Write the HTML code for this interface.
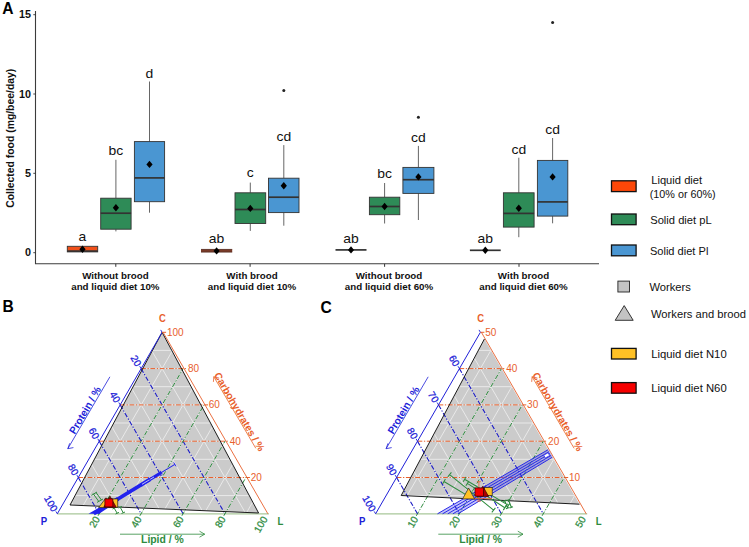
<!DOCTYPE html>
<html><head><meta charset="utf-8"><title>Figure</title>
<style>
html,body{margin:0;padding:0;background:#fff;}
body{width:749px;height:547px;overflow:hidden;}
svg{display:block;font-family:"Liberation Sans", sans-serif;}
</style></head>
<body>
<svg width="749" height="547" viewBox="0 0 749 547">
<rect width="749" height="547" fill="#fff"/>
<text x="2.2" y="14" font-size="15.6" font-weight="bold" fill="#000">A</text>
<text x="2.5" y="312.3" font-size="15.6" font-weight="bold" fill="#000">B</text>
<text x="320.5" y="312.6" font-size="15.6" font-weight="bold" fill="#000">C</text>
<path d="M35.5 11 V263.8 H599" fill="none" stroke="#3C3C3C" stroke-width="1.1"/>
<path d="M33.3 252.7 H35.5" stroke="#333333" stroke-width="0.9"/>
<text transform="translate(31.0,256.4) scale(1.07,1)" font-size="10.1" font-weight="bold" text-anchor="end" fill="#111">0</text>
<path d="M33.3 173.3 H35.5" stroke="#333333" stroke-width="0.9"/>
<text transform="translate(31.0,177.1) scale(1.07,1)" font-size="10.1" font-weight="bold" text-anchor="end" fill="#111">5</text>
<path d="M33.3 94.0 H35.5" stroke="#333333" stroke-width="0.9"/>
<text transform="translate(31.0,97.8) scale(1.07,1)" font-size="10.1" font-weight="bold" text-anchor="end" fill="#111">10</text>
<path d="M33.3 14.7 H35.5" stroke="#333333" stroke-width="0.9"/>
<text transform="translate(31.0,18.4) scale(1.07,1)" font-size="10.1" font-weight="bold" text-anchor="end" fill="#111">15</text>
<text transform="translate(14.0,138.3) rotate(-90)" font-size="10.4" font-weight="bold" text-anchor="middle" fill="#111">Collected food (mg/bee/day)</text>
<path d="M115.8 263.8 V266.8" stroke="#333333" stroke-width="1"/>
<text x="115.4" y="278.6" font-size="9.75" font-weight="bold" text-anchor="middle" fill="#111">Without brood</text>
<text x="115.4" y="289.7" font-size="9.75" font-weight="bold" text-anchor="middle" fill="#111">and liquid diet 10%</text>
<path d="M250.1 263.8 V266.8" stroke="#333333" stroke-width="1"/>
<text x="252.0" y="278.6" font-size="9.75" font-weight="bold" text-anchor="middle" fill="#111">With brood</text>
<text x="252.0" y="289.7" font-size="9.75" font-weight="bold" text-anchor="middle" fill="#111">and liquid diet 10%</text>
<path d="M384.6 263.8 V266.8" stroke="#333333" stroke-width="1"/>
<text x="389.0" y="278.6" font-size="9.75" font-weight="bold" text-anchor="middle" fill="#111">Without brood</text>
<text x="389.0" y="289.7" font-size="9.75" font-weight="bold" text-anchor="middle" fill="#111">and liquid diet 60%</text>
<path d="M519.0 263.8 V266.8" stroke="#333333" stroke-width="1"/>
<text x="523.5" y="278.6" font-size="9.75" font-weight="bold" text-anchor="middle" fill="#111">With brood</text>
<text x="523.5" y="289.7" font-size="9.75" font-weight="bold" text-anchor="middle" fill="#111">and liquid diet 60%</text>
<path d="M82.5 246.3 V246.3 M82.5 251.9 V251.9" stroke="#4A4A4A" stroke-width="0.85"/>
<rect x="67.3" y="246.3" width="30.4" height="5.6" fill="#F0501A" stroke="#333333" stroke-width="0.9"/>
<path d="M67.3 251.1 H97.7" stroke="#333333" stroke-width="1.7"/>
<path d="M82.5 245.6 L85.6 249.3 L82.5 253.0 L79.4 249.3Z" fill="#000"/>
<text transform="translate(82.5,240.6) scale(1.08,1)" font-size="12.9" text-anchor="middle" fill="#111">a</text>
<path d="M115.9 159.8 V198.2 M115.9 229.2 V231.4" stroke="#4A4A4A" stroke-width="0.85"/>
<rect x="100.7" y="198.2" width="30.4" height="31.0" fill="#2E8B57" stroke="#333333" stroke-width="0.9"/>
<path d="M100.7 213.2 H131.1" stroke="#333333" stroke-width="1.7"/>
<path d="M115.9 204.1 L119.0 207.8 L115.9 211.5 L112.8 207.8Z" fill="#000"/>
<text transform="translate(115.9,155.4) scale(1.08,1)" font-size="12.9" text-anchor="middle" fill="#111">bc</text>
<path d="M149.5 81.5 V141.6 M149.5 201.7 V212.7" stroke="#4A4A4A" stroke-width="0.85"/>
<rect x="134.4" y="141.6" width="30.2" height="60.1" fill="#4A96D2" stroke="#333333" stroke-width="0.9"/>
<path d="M134.4 177.9 H164.6" stroke="#333333" stroke-width="1.7"/>
<path d="M149.5 160.7 L152.6 164.4 L149.5 168.1 L146.4 164.4Z" fill="#000"/>
<text transform="translate(149.5,77.5) scale(1.08,1)" font-size="12.9" text-anchor="middle" fill="#111">d</text>
<path d="M201 250.7 H232.2" stroke="#7A3A28" stroke-width="3.1"/>
<path d="M201 249.4 H232.2 M201 252.1 H232.2" stroke="#4A2A22" stroke-width="0.6"/>
<path d="M216.6 247.2 L219.7 250.9 L216.6 254.6 L213.5 250.9Z" fill="#000"/>
<text transform="translate(216.4,243.4) scale(1.08,1)" font-size="12.9" text-anchor="middle" fill="#111">ab</text>
<path d="M250.3 182.6 V192.8 M250.3 223.5 V230.9" stroke="#4A4A4A" stroke-width="0.85"/>
<rect x="235.0" y="192.8" width="30.7" height="30.7" fill="#2E8B57" stroke="#333333" stroke-width="0.9"/>
<path d="M235.0 209.5 H265.7" stroke="#333333" stroke-width="1.7"/>
<path d="M250.3 204.7 L253.4 208.4 L250.3 212.1 L247.2 208.4Z" fill="#000"/>
<text transform="translate(250.3,177.1) scale(1.08,1)" font-size="12.9" text-anchor="middle" fill="#111">c</text>
<path d="M283.8 145.1 V178.2 M283.8 212.6 V225.7" stroke="#4A4A4A" stroke-width="0.85"/>
<rect x="268.5" y="178.2" width="30.5" height="34.4" fill="#4A96D2" stroke="#333333" stroke-width="0.9"/>
<path d="M268.5 197.2 H299.0" stroke="#333333" stroke-width="1.7"/>
<path d="M283.8 182.0 L286.9 185.7 L283.8 189.4 L280.6 185.7Z" fill="#000"/>
<text transform="translate(283.8,140.6) scale(1.08,1)" font-size="12.9" text-anchor="middle" fill="#111">cd</text>
<circle cx="283.8" cy="90.5" r="1.5" fill="#222"/>
<path d="M351.0 249.9 V249.9 M351.0 249.9 V249.9" stroke="#4A4A4A" stroke-width="0.85"/>
<rect x="335.5" y="249.9" width="31.0" height="0.0" fill="#333333" stroke="#333333" stroke-width="0.9"/>
<path d="M335.5 249.9 H366.5" stroke="#333333" stroke-width="1.7"/>
<path d="M351.0 246.2 L354.1 249.9 L351.0 253.6 L347.9 249.9Z" fill="#000"/>
<text transform="translate(351.0,242.6) scale(1.08,1)" font-size="12.9" text-anchor="middle" fill="#111">ab</text>
<path d="M384.6 183.0 V197.2 M384.6 214.7 V223.5" stroke="#4A4A4A" stroke-width="0.85"/>
<rect x="369.4" y="197.2" width="30.4" height="17.5" fill="#2E8B57" stroke="#333333" stroke-width="0.9"/>
<path d="M369.4 206.5 H399.8" stroke="#333333" stroke-width="1.7"/>
<path d="M384.6 202.8 L387.7 206.5 L384.6 210.2 L381.5 206.5Z" fill="#000"/>
<text transform="translate(384.6,177.9) scale(1.08,1)" font-size="12.9" text-anchor="middle" fill="#111">bc</text>
<path d="M418.4 145.9 V167.4 M418.4 193.4 V220.0" stroke="#4A4A4A" stroke-width="0.85"/>
<rect x="402.9" y="167.4" width="31.0" height="26.0" fill="#4A96D2" stroke="#333333" stroke-width="0.9"/>
<path d="M402.9 179.7 H433.9" stroke="#333333" stroke-width="1.7"/>
<path d="M418.4 173.2 L421.5 176.9 L418.4 180.6 L415.3 176.9Z" fill="#000"/>
<text transform="translate(418.4,141.9) scale(1.08,1)" font-size="12.9" text-anchor="middle" fill="#111">cd</text>
<circle cx="418.4" cy="117.3" r="1.5" fill="#222"/>
<path d="M485.3 250.3 V250.3 M485.3 250.3 V250.3" stroke="#4A4A4A" stroke-width="0.85"/>
<rect x="469.9" y="250.3" width="30.8" height="0.0" fill="#333333" stroke="#333333" stroke-width="0.9"/>
<path d="M469.9 250.3 H500.7" stroke="#333333" stroke-width="1.7"/>
<path d="M485.3 246.6 L488.4 250.3 L485.3 254.0 L482.2 250.3Z" fill="#000"/>
<text transform="translate(485.3,243.2) scale(1.08,1)" font-size="12.9" text-anchor="middle" fill="#111">ab</text>
<path d="M518.8 157.7 V192.8 M518.8 227.1 V237.2" stroke="#4A4A4A" stroke-width="0.85"/>
<rect x="503.4" y="192.8" width="30.7" height="34.3" fill="#2E8B57" stroke="#333333" stroke-width="0.9"/>
<path d="M503.4 213.4 H534.1" stroke="#333333" stroke-width="1.7"/>
<path d="M518.8 204.5 L521.9 208.2 L518.8 211.9 L515.6 208.2Z" fill="#000"/>
<text transform="translate(518.8,153.7) scale(1.08,1)" font-size="12.9" text-anchor="middle" fill="#111">cd</text>
<path d="M552.6 138.0 V160.4 M552.6 216.1 V223.3" stroke="#4A4A4A" stroke-width="0.85"/>
<rect x="537.4" y="160.4" width="30.4" height="55.7" fill="#4A96D2" stroke="#333333" stroke-width="0.9"/>
<path d="M537.4 201.9 H567.8" stroke="#333333" stroke-width="1.7"/>
<path d="M552.6 173.2 L555.7 176.9 L552.6 180.6 L549.5 176.9Z" fill="#000"/>
<text transform="translate(552.6,134.3) scale(1.08,1)" font-size="12.9" text-anchor="middle" fill="#111">cd</text>
<circle cx="552.6" cy="22.5" r="1.5" fill="#222"/>
<rect x="611.5" y="180.8" width="24.6" height="10.8" fill="#FC4708" stroke="#111" stroke-width="1.3"/>
<rect x="611.5" y="214.0" width="24.6" height="10.7" fill="#2E8B57" stroke="#111" stroke-width="1.3"/>
<rect x="611.5" y="245.0" width="24.6" height="10.8" fill="#4A96D2" stroke="#111" stroke-width="1.3"/>
<rect x="617.9" y="281.1" width="11.6" height="10.9" fill="#C3C3C3" stroke="#222" stroke-width="0.9"/>
<path d="M624.2 305.6 L633.2 320.3 L615.2 320.3 Z" fill="#C3C3C3" stroke="#222" stroke-width="0.9"/>
<rect x="611.5" y="348.4" width="24.6" height="10.6" fill="#FFC125" stroke="#111" stroke-width="1.3"/>
<rect x="611.5" y="382.6" width="24.6" height="10.6" fill="#F60000" stroke="#111" stroke-width="1.3"/>
<text x="651.2" y="183.6" font-size="10.2" fill="#111" textLength="51" lengthAdjust="spacingAndGlyphs">Liquid diet</text>
<text x="649.7" y="198.1" font-size="10.2" fill="#111" textLength="66" lengthAdjust="spacingAndGlyphs">(10% or 60%)</text>
<text x="650.2" y="224.0" font-size="10.2" fill="#111" textLength="61.5" lengthAdjust="spacingAndGlyphs">Solid diet pL</text>
<text x="649.9" y="255.1" font-size="10.2" fill="#111" textLength="58.5" lengthAdjust="spacingAndGlyphs">Solid diet Pl</text>
<text x="649.4" y="290.8" font-size="10.2" fill="#111" textLength="41.5" lengthAdjust="spacingAndGlyphs">Workers</text>
<text x="651.0" y="317.5" font-size="10.6" fill="#111" textLength="95" lengthAdjust="spacingAndGlyphs">Workers and brood</text>
<text x="651.2" y="357.5" font-size="10.2" fill="#111" textLength="75.5" lengthAdjust="spacingAndGlyphs">Liquid diet N10</text>
<text x="651.2" y="392.0" font-size="10.2" fill="#111" textLength="75.5" lengthAdjust="spacingAndGlyphs">Liquid diet N60</text>
<clipPath id="clip0"><polygon points="162.1,332.3 70.0,505.0 258.6,513.0"/></clipPath>
<polygon points="162.1,332.3 70.0,505.0 258.6,513.0" fill="#CBCBCB"/>
<path d="M67.8 495.6L256.4 495.6M151.6 350.4L245.9 513.8M78.3 513.8L172.6 350.4M78.3 477.5L245.9 477.5M141.1 368.6L225.0 513.8M99.2 513.8L183.1 368.6M88.7 459.3L235.5 459.3M130.7 386.7L204.0 513.8M120.2 513.8L193.5 386.7M99.2 441.2L225.0 441.2M120.2 404.9L183.1 513.8M141.1 513.8L204.0 404.9M109.7 423.0L214.5 423.0M109.7 423.0L162.1 513.8M162.1 513.8L214.5 423.0M120.2 404.9L204.0 404.9M99.2 441.2L141.1 513.8M183.1 513.8L225.0 441.2M130.7 386.7L193.5 386.7M88.7 459.3L120.2 513.8M204.0 513.8L235.5 459.3M141.1 368.6L183.1 368.6M78.3 477.5L99.2 513.8M225.0 513.8L245.9 477.5M151.6 350.4L172.6 350.4M67.8 495.6L78.3 513.8M245.9 513.8L256.4 495.6" stroke="#EFEFEF" stroke-width="0.85" fill="none" clip-path="url(#clip0)"/>
<path d="M57.3 513.8 H268.9" stroke="#A9C79A" stroke-width="1.2"/>
<path d="M78.3 477.5L249.9 477.5" stroke="#E8602C" stroke-width="1.0" stroke-dasharray="4.8 1.6 1.3 1.6"/>
<path d="M141.1 368.6L225.0 513.8" stroke="#1A1AC4" stroke-width="1.1" stroke-dasharray="4.8 1.6 1.3 1.6"/>
<path d="M98.0 515.8L183.1 368.6" stroke="#2E8B3E" stroke-width="1.0" stroke-dasharray="4.8 1.6 1.3 1.6"/>
<path d="M99.2 441.2L229.0 441.2" stroke="#E8602C" stroke-width="1.0" stroke-dasharray="4.8 1.6 1.3 1.6"/>
<path d="M120.2 404.9L183.1 513.8" stroke="#1A1AC4" stroke-width="1.1" stroke-dasharray="4.8 1.6 1.3 1.6"/>
<path d="M139.9 515.8L204.0 404.9" stroke="#2E8B3E" stroke-width="1.0" stroke-dasharray="4.8 1.6 1.3 1.6"/>
<path d="M120.2 404.9L208.0 404.9" stroke="#E8602C" stroke-width="1.0" stroke-dasharray="4.8 1.6 1.3 1.6"/>
<path d="M99.2 441.2L141.1 513.8" stroke="#1A1AC4" stroke-width="1.1" stroke-dasharray="4.8 1.6 1.3 1.6"/>
<path d="M181.9 515.8L225.0 441.2" stroke="#2E8B3E" stroke-width="1.0" stroke-dasharray="4.8 1.6 1.3 1.6"/>
<path d="M141.1 368.6L187.1 368.6" stroke="#E8602C" stroke-width="1.0" stroke-dasharray="4.8 1.6 1.3 1.6"/>
<path d="M78.3 477.5L99.2 513.8" stroke="#1A1AC4" stroke-width="1.1" stroke-dasharray="4.8 1.6 1.3 1.6"/>
<path d="M223.8 515.8L245.9 477.5" stroke="#2E8B3E" stroke-width="1.0" stroke-dasharray="4.8 1.6 1.3 1.6"/>
<polygon points="162.1,332.3 70.0,505.0 258.6,513.0" fill="none" stroke="#111" stroke-width="0.95" stroke-linejoin="miter"/>
<path d="M57.3 513.8L162.1 332.3" stroke="#2020D8" stroke-width="1.0"/>
<path d="M163.1 332.3L267.9 513.8" stroke="#E8602C" stroke-width="0.9"/>
<path d="M57.3 513.8l-1.4 -2.4M78.3 477.5l-1.4 -2.4M99.2 441.2l-1.4 -2.4M120.2 404.9l-1.4 -2.4M141.1 368.6l-1.4 -2.4M162.1 332.3l-1.4 -2.4" stroke="#2020D8" stroke-width="0.9" fill="none"/>
<path d="M162.1 332.3h4" stroke="#E8602C" stroke-width="1"/>
<text transform="translate(162.3,321.7) scale(0.88,1)" font-size="10.7" font-weight="bold" text-anchor="middle" fill="#E8602C">C</text>
<text transform="translate(43.9,524.8) scale(0.88,1)" font-size="10.9" font-weight="bold" text-anchor="middle" fill="#2020D8">P</text>
<text transform="translate(280.3,524.8) scale(0.88,1)" font-size="10.9" font-weight="bold" text-anchor="middle" fill="#2E8B3E">L</text>
<text x="250.7" y="481.0" font-size="10" fill="#E8602C">20</text>
<text x="229.8" y="444.7" font-size="10" fill="#E8602C">40</text>
<text x="208.8" y="408.4" font-size="10" fill="#E8602C">60</text>
<text x="187.9" y="372.1" font-size="10" fill="#E8602C">80</text>
<text x="166.9" y="335.8" font-size="10" fill="#E8602C">100</text>
<text transform="translate(55.0,510.8) rotate(60)" font-size="10" text-anchor="end" dy="3.5" fill="#2020D8" stroke="#2020D8" stroke-width="0.25">100</text>
<text transform="translate(76.0,474.5) rotate(60)" font-size="10" text-anchor="end" dy="3.5" fill="#2020D8" stroke="#2020D8" stroke-width="0.25">80</text>
<text transform="translate(96.9,438.2) rotate(60)" font-size="10" text-anchor="end" dy="3.5" fill="#2020D8" stroke="#2020D8" stroke-width="0.25">60</text>
<text transform="translate(117.9,401.9) rotate(60)" font-size="10" text-anchor="end" dy="3.5" fill="#2020D8" stroke="#2020D8" stroke-width="0.25">40</text>
<text transform="translate(138.8,365.6) rotate(60)" font-size="10" text-anchor="end" dy="3.5" fill="#2020D8" stroke="#2020D8" stroke-width="0.25">20</text>
<text transform="translate(97.2,517.2) rotate(-60)" font-size="10" text-anchor="end" dy="3.5" fill="#2E8B3E" stroke="#2E8B3E" stroke-width="0.25">20</text>
<text transform="translate(139.1,517.2) rotate(-60)" font-size="10" text-anchor="end" dy="3.5" fill="#2E8B3E" stroke="#2E8B3E" stroke-width="0.25">40</text>
<text transform="translate(181.1,517.2) rotate(-60)" font-size="10" text-anchor="end" dy="3.5" fill="#2E8B3E" stroke="#2E8B3E" stroke-width="0.25">60</text>
<text transform="translate(223.0,517.2) rotate(-60)" font-size="10" text-anchor="end" dy="3.5" fill="#2E8B3E" stroke="#2E8B3E" stroke-width="0.25">80</text>
<text transform="translate(264.9,517.2) rotate(-60)" font-size="10" text-anchor="end" dy="3.5" fill="#2E8B3E" stroke="#2E8B3E" stroke-width="0.25">100</text>
<path d="M109.9 376.8L67.8 448.7M69.7 443.3L67.8 448.7L73.4 447.6" fill="none" stroke="#2020D8" stroke-width="0.8"/>
<text transform="translate(89.0,412.5) rotate(-59.7)" font-size="10.2" font-weight="bold" text-anchor="middle" y="-1.0" fill="#2020D8">Protein / %</text>
<path d="M255.8 448.3L213.8 376.7M219.2 378.1L213.8 376.7L213.4 381.9" fill="none" stroke="#E8602C" stroke-width="0.8"/>
<text transform="translate(213.8,376.7) rotate(59.6)" font-size="10.2" font-weight="bold" x="-1.5" y="-0.8" fill="#E8602C">Carbohydrates / %</text>
<path d="M120.0 534.2H204.7M199.5 531.2L204.7 534.2L199.5 537.2" fill="none" stroke="#2E8B3E" stroke-width="0.8"/>
<text x="162.4" y="542.8" font-size="10.4" font-weight="bold" text-anchor="middle" fill="#2E8B3E">Lipid / %</text>
<path d="M88.5 513.8 L99.1 513.8 L119.2 500.4 L117.2 497.0 Z" fill="#2222EE"/>
<path d="M93.8 513.75 L150 479.4" stroke="#2222EE" stroke-width="3.6" fill="none"/>
<path d="M140 485.5 L161.3 472.6" stroke="#2222EE" stroke-width="3.0" fill="none"/>
<path d="M150 479.4 L174.9 464.4" stroke="#2222EE" stroke-width="1.1" fill="none"/>
<path d="M142 484.3 L154 477.0" stroke="#E6E6F6" stroke-width="0.8"/>
<path d="M173.7 462.4 l2.4 4 M160.2 470.8 l2.2 3.6 M148.3 477.2 l2 3.2 M140.3 483 l2 3.2" stroke="#2222EE" stroke-width="0.9" fill="none"/>
<path d="M93.1 493.6 L98.6 501.2 M96.1 492.6 L101.6 500.2 M91.4 495.4 L97.0 492.0 M97.0 502.4 L103.0 499.0 M114.2 508.2 L117.2 513.2 M120.2 507.2 L123.2 512.7 M112.5 509 L116 507.4 M118.5 508 L122 506.4 M115.5 514 L119 512.4 M121.5 513.5 L125 512" stroke="#2E8B3E" stroke-width="1.0" fill="none"/>
<path d="M106 497.8 L113.4 507.6 L98.6 507.6 Z" fill="#FFC125" stroke="#222" stroke-width="0.7"/>
<rect x="109" y="498.9" width="8.8" height="8.5" fill="#FFC125" stroke="#222" stroke-width="0.7"/>
<path d="M110 496.2 L116.2 507.2 L103.8 507.2 Z" fill="#B00000" stroke="#300" stroke-width="0.7"/>
<rect x="104.9" y="498.9" width="8" height="8" fill="#F60000" stroke="#300" stroke-width="0.7"/>
<clipPath id="clip318"><polygon points="484.4,339.0 401.2,495.5 579.5,504.2"/></clipPath>
<polygon points="484.4,339.0 401.2,495.5 579.5,504.2" fill="#CBCBCB"/>
<path d="M386.1 495.6L574.7 495.6M469.9 350.4L564.2 513.8M396.6 513.8L490.9 350.4M396.6 477.5L564.2 477.5M459.4 368.6L543.3 513.8M417.5 513.8L501.4 368.6M407.0 459.3L553.8 459.3M449.0 386.7L522.3 513.8M438.5 513.8L511.8 386.7M417.5 441.2L543.3 441.2M438.5 404.9L501.4 513.8M459.4 513.8L522.3 404.9M428.0 423.0L532.8 423.0M428.0 423.0L480.4 513.8M480.4 513.8L532.8 423.0M438.5 404.9L522.3 404.9M417.5 441.2L459.4 513.8M501.4 513.8L543.3 441.2M449.0 386.7L511.8 386.7M407.0 459.3L438.5 513.8M522.3 513.8L553.8 459.3M459.4 368.6L501.4 368.6M396.6 477.5L417.5 513.8M543.3 513.8L564.2 477.5M469.9 350.4L490.9 350.4M386.1 495.6L396.6 513.8M564.2 513.8L574.7 495.6" stroke="#EFEFEF" stroke-width="0.85" fill="none" clip-path="url(#clip318)"/>
<path d="M375.6 513.8 H587.2" stroke="#A9C79A" stroke-width="1.2"/>
<path d="M396.6 477.5L568.2 477.5" stroke="#E8602C" stroke-width="1.0" stroke-dasharray="4.8 1.6 1.3 1.6"/>
<path d="M459.4 368.6L543.3 513.8" stroke="#1A1AC4" stroke-width="1.1" stroke-dasharray="4.8 1.6 1.3 1.6"/>
<path d="M416.3 515.8L501.4 368.6" stroke="#2E8B3E" stroke-width="1.0" stroke-dasharray="4.8 1.6 1.3 1.6"/>
<path d="M417.5 441.2L547.3 441.2" stroke="#E8602C" stroke-width="1.0" stroke-dasharray="4.8 1.6 1.3 1.6"/>
<path d="M438.5 404.9L501.4 513.8" stroke="#1A1AC4" stroke-width="1.1" stroke-dasharray="4.8 1.6 1.3 1.6"/>
<path d="M458.2 515.8L522.3 404.9" stroke="#2E8B3E" stroke-width="1.0" stroke-dasharray="4.8 1.6 1.3 1.6"/>
<path d="M438.5 404.9L526.3 404.9" stroke="#E8602C" stroke-width="1.0" stroke-dasharray="4.8 1.6 1.3 1.6"/>
<path d="M417.5 441.2L459.4 513.8" stroke="#1A1AC4" stroke-width="1.1" stroke-dasharray="4.8 1.6 1.3 1.6"/>
<path d="M500.2 515.8L543.3 441.2" stroke="#2E8B3E" stroke-width="1.0" stroke-dasharray="4.8 1.6 1.3 1.6"/>
<path d="M459.4 368.6L505.4 368.6" stroke="#E8602C" stroke-width="1.0" stroke-dasharray="4.8 1.6 1.3 1.6"/>
<path d="M396.6 477.5L417.5 513.8" stroke="#1A1AC4" stroke-width="1.1" stroke-dasharray="4.8 1.6 1.3 1.6"/>
<path d="M542.1 515.8L564.2 477.5" stroke="#2E8B3E" stroke-width="1.0" stroke-dasharray="4.8 1.6 1.3 1.6"/>
<path d="M484.4 339.0L401.2 495.5L579.5 504.2" fill="none" stroke="#111" stroke-width="0.95"/>
<path d="M375.6 513.8L480.4 332.3" stroke="#2020D8" stroke-width="1.0"/>
<path d="M481.4 332.3L586.2 513.8" stroke="#E8602C" stroke-width="0.9"/>
<path d="M375.6 513.8l-1.4 -2.4M396.6 477.5l-1.4 -2.4M417.5 441.2l-1.4 -2.4M438.5 404.9l-1.4 -2.4M459.4 368.6l-1.4 -2.4M480.4 332.3l-1.4 -2.4" stroke="#2020D8" stroke-width="0.9" fill="none"/>
<path d="M480.4 332.3h4" stroke="#E8602C" stroke-width="1"/>
<text transform="translate(480.6,321.7) scale(0.88,1)" font-size="10.7" font-weight="bold" text-anchor="middle" fill="#E8602C">C</text>
<text transform="translate(362.2,524.8) scale(0.88,1)" font-size="10.9" font-weight="bold" text-anchor="middle" fill="#2020D8">P</text>
<text transform="translate(598.6,524.8) scale(0.88,1)" font-size="10.9" font-weight="bold" text-anchor="middle" fill="#2E8B3E">L</text>
<text x="569.0" y="481.0" font-size="10" fill="#E8602C">10</text>
<text x="548.1" y="444.7" font-size="10" fill="#E8602C">20</text>
<text x="527.1" y="408.4" font-size="10" fill="#E8602C">30</text>
<text x="506.2" y="372.1" font-size="10" fill="#E8602C">40</text>
<text x="485.2" y="335.8" font-size="10" fill="#E8602C">50</text>
<text transform="translate(373.3,510.8) rotate(60)" font-size="10" text-anchor="end" dy="3.5" fill="#2020D8" stroke="#2020D8" stroke-width="0.25">100</text>
<text transform="translate(394.3,474.5) rotate(60)" font-size="10" text-anchor="end" dy="3.5" fill="#2020D8" stroke="#2020D8" stroke-width="0.25">90</text>
<text transform="translate(415.2,438.2) rotate(60)" font-size="10" text-anchor="end" dy="3.5" fill="#2020D8" stroke="#2020D8" stroke-width="0.25">80</text>
<text transform="translate(436.2,401.9) rotate(60)" font-size="10" text-anchor="end" dy="3.5" fill="#2020D8" stroke="#2020D8" stroke-width="0.25">70</text>
<text transform="translate(457.1,365.6) rotate(60)" font-size="10" text-anchor="end" dy="3.5" fill="#2020D8" stroke="#2020D8" stroke-width="0.25">60</text>
<text transform="translate(415.5,517.2) rotate(-60)" font-size="10" text-anchor="end" dy="3.5" fill="#2E8B3E" stroke="#2E8B3E" stroke-width="0.25">10</text>
<text transform="translate(457.4,517.2) rotate(-60)" font-size="10" text-anchor="end" dy="3.5" fill="#2E8B3E" stroke="#2E8B3E" stroke-width="0.25">20</text>
<text transform="translate(499.4,517.2) rotate(-60)" font-size="10" text-anchor="end" dy="3.5" fill="#2E8B3E" stroke="#2E8B3E" stroke-width="0.25">30</text>
<text transform="translate(541.3,517.2) rotate(-60)" font-size="10" text-anchor="end" dy="3.5" fill="#2E8B3E" stroke="#2E8B3E" stroke-width="0.25">40</text>
<text transform="translate(583.2,517.2) rotate(-60)" font-size="10" text-anchor="end" dy="3.5" fill="#2E8B3E" stroke="#2E8B3E" stroke-width="0.25">50</text>
<path d="M428.2 376.8L386.1 448.7M388.0 443.3L386.1 448.7L391.7 447.6" fill="none" stroke="#2020D8" stroke-width="0.8"/>
<text transform="translate(407.3,412.5) rotate(-59.7)" font-size="10.2" font-weight="bold" text-anchor="middle" y="-1.0" fill="#2020D8">Protein / %</text>
<path d="M574.1 448.3L532.1 376.7M537.5 378.1L532.1 376.7L531.7 381.9" fill="none" stroke="#E8602C" stroke-width="0.8"/>
<text transform="translate(532.1,376.7) rotate(59.6)" font-size="10.2" font-weight="bold" x="-1.5" y="-0.8" fill="#E8602C">Carbohydrates / %</text>
<path d="M438.3 534.2H523.0M517.8 531.2L523.0 534.2L517.8 537.2" fill="none" stroke="#2E8B3E" stroke-width="0.8"/>
<text x="480.7" y="542.8" font-size="10.4" font-weight="bold" text-anchor="middle" fill="#2E8B3E">Lipid / %</text>
<polygon points="437.5,513.8 548.1,449.7 552.4,457.2 458.0,513.8" fill="#3A3AEE" fill-opacity="0.30"/>
<path d="M437.5 513.8L548.1 449.7M442.6 513.8L549.2 451.6M447.8 513.8L550.2 453.4M452.9 513.8L551.3 455.3M458.0 513.8L552.4 457.2" stroke="#2A2AE8" stroke-width="1.0" fill="none"/>
<rect x="544.2" y="453.8" width="5" height="3.2" fill="#fff" stroke="#2A2AE8" stroke-width="0.7" transform="rotate(-30 546.7 455.4)"/>
<path d="M449.6 474.6L493.6 510.1M451.4 472.4L447.8 476.8M495.4 507.9L491.8 512.3M444.0 481.5L468.3 496.1M445.4 479.1L442.6 483.9M464.6 479.3L508.5 505.4M466.0 476.9L463.2 481.7M509.9 503.0L507.1 507.8M467.4 483.4L504.8 507.7M468.9 481.1L465.9 485.7M506.3 505.4L503.3 510.0M504.8 500.7L507.6 508.2M506.5 500.1L503.1 501.3M509.3 507.6L505.9 508.8M508.5 499.8L511.3 507.3M510.2 499.2L506.8 500.4M513.0 506.7L509.6 507.9" stroke="#2E8B3E" stroke-width="1.05" fill="none"/>
<path d="M478.9 481.7 V501.2 M476.9 481.7 h4 M476.9 501.2 h4 M471 498.6 H492" stroke="#E8602C" stroke-width="0.8" fill="none"/>
<path d="M468.6 488.0 L474.6 498.9 L462.6 498.9 Z" fill="#FFC125" stroke="#222" stroke-width="0.7"/>
<rect x="484.4" y="487.5" width="7.8" height="8" fill="#FFC125" stroke="#222" stroke-width="0.7"/>
<path d="M482.8 486.2 L488.6 496.4 L477 496.4 Z" fill="#B00000" stroke="#300" stroke-width="0.7"/>
<rect x="475" y="487.9" width="8.4" height="8.2" fill="#F60000" stroke="#300" stroke-width="0.7"/>
</svg>
</body></html>
